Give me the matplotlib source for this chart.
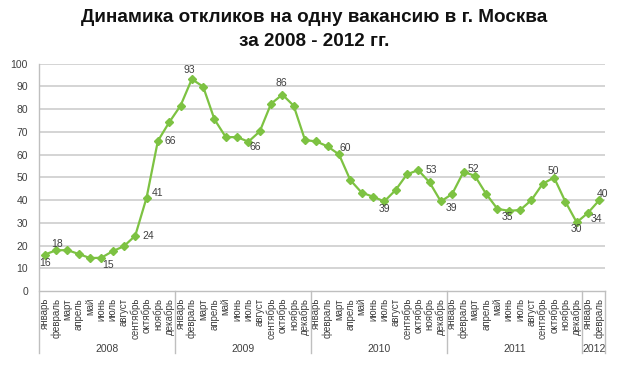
import matplotlib
matplotlib.use("Agg")
import matplotlib.pyplot as plt
import matplotlib.transforms as mtransforms

plt.rcParams['font.family'] = ['Liberation Sans', 'DejaVu Sans']

months = ["январь", "февраль", "март", "апрель", "май", "июнь", "июль",
          "август", "сентябрь", "октябрь", "ноябрь", "декабрь"]
years = ["2008", "2009", "2010", "2011", "2012"]
months_per_year = [12, 12, 12, 12, 2]

values = [16.0, 17.9, 18.0, 16.3, 14.5, 14.6, 17.5, 19.7, 24.3, 41.0, 66.0, 74.2,
          81.5, 93.2, 89.9, 75.5, 67.7, 67.7, 65.7, 70.2, 82.4, 86.4, 81.5, 66.4,
          65.8, 63.6, 60.1, 48.8, 43.3, 41.5, 39.4, 44.4, 51.3, 53.2, 47.8, 39.4,
          42.7, 52.4, 50.7, 42.7, 36.1, 35.3, 35.6, 40.0, 47.2, 49.9, 39.3, 30.2,
          34.4, 40.0]

# indices of labelled points and label offsets (pixels: dx right, dy up)
label_idx = [0, 1, 5, 8, 9, 10, 13, 18, 21, 26, 30, 33, 35, 37, 41, 45, 47, 48, 49]
label_off = [(0, -8), (1, 6), (7, -7), (13, 0), (11, 5), (12, 0), (-3, 9), (7, -5),
             (-1, 12), (6, 6), (0, -8), (13, 0), (11, -7), (10, 3), (-1, -6),
             (-1, 7), (0, -7), (8, -6), (3, 6)]

month_labels = []
for n in months_per_year:
    month_labels += months[:n]

W, H = 624, 374
fig = plt.figure(figsize=(W / 100, H / 100), dpi=100)
left, right, top, bottom = 39, 605, 63.7, 291
ax = fig.add_axes([left / W, 1 - bottom / H, (right - left) / W, (bottom - top) / H])

green = "#7dc242"
grid_c = "#d4d4d4"
axis_c = "#bfbfbf"
txt_c = "#404040"

x = list(range(len(values)))
ax.plot(x, values, color=green, lw=1.6, marker="D", ms=4, mfc=green, mec=green, zorder=3)

ax.set_xlim(-0.5, len(values) - 0.5)
ax.set_ylim(0, 100)
ax.set_yticks(range(0, 101, 10))
ax.tick_params(axis='y', length=0, pad=8, labelsize=7.5, labelcolor=txt_c)
for v in range(10, 101, 10):
    ax.axhline(v, color=grid_c, lw=1.4, zorder=1)

ax.set_xticks(x)
ax.set_xticklabels(month_labels, rotation=90, fontsize=7, color=txt_c, va='top', ha='center')
ax.tick_params(axis='x', length=0, pad=5)

for s in ["top", "right", "left"]:
    ax.spines[s].set_visible(False)
ax.spines["bottom"].set_color(axis_c)
ax.spines["bottom"].set_linewidth(1.0)

trans = mtransforms.blended_transform_factory(ax.transData, ax.transAxes)
bot = -(353 - 291) / (bottom - top)
ax.plot([-0.5, -0.5], [bot, 1.0], color=axis_c, lw=1.0, transform=trans, clip_on=False)
start = -0.5
for yr, n in zip(years, months_per_year):
    end = start + n
    ax.plot([end, end], [bot, 0], color=axis_c, lw=1.0, transform=trans, clip_on=False)
    ax.text((start + end) / 2, -(349 - 291) / (bottom - top), yr, transform=trans,
            ha='center', va='center', fontsize=7.5, color=txt_c)
    start = end

for i, (dx, dy) in zip(label_idx, label_off):
    ax.annotate(f"{round(values[i])}", (i, values[i]), xytext=(dx * 0.72, dy * 0.72),
                textcoords='offset points', ha='center', va='center', fontsize=7.5,
                color=txt_c, zorder=4)

fig.text(0.504, 1 - 22 / H, "Динамика откликов на одну вакансию в г. Москва",
         ha='center', va='baseline', fontsize=13.6, fontweight='bold', color='#111111')
fig.text(0.504, 1 - 46 / H, "за 2008 - 2012 гг.",
         ha='center', va='baseline', fontsize=13.6, fontweight='bold', color='#111111')

fig.savefig("out.png", dpi=100, facecolor='white')
